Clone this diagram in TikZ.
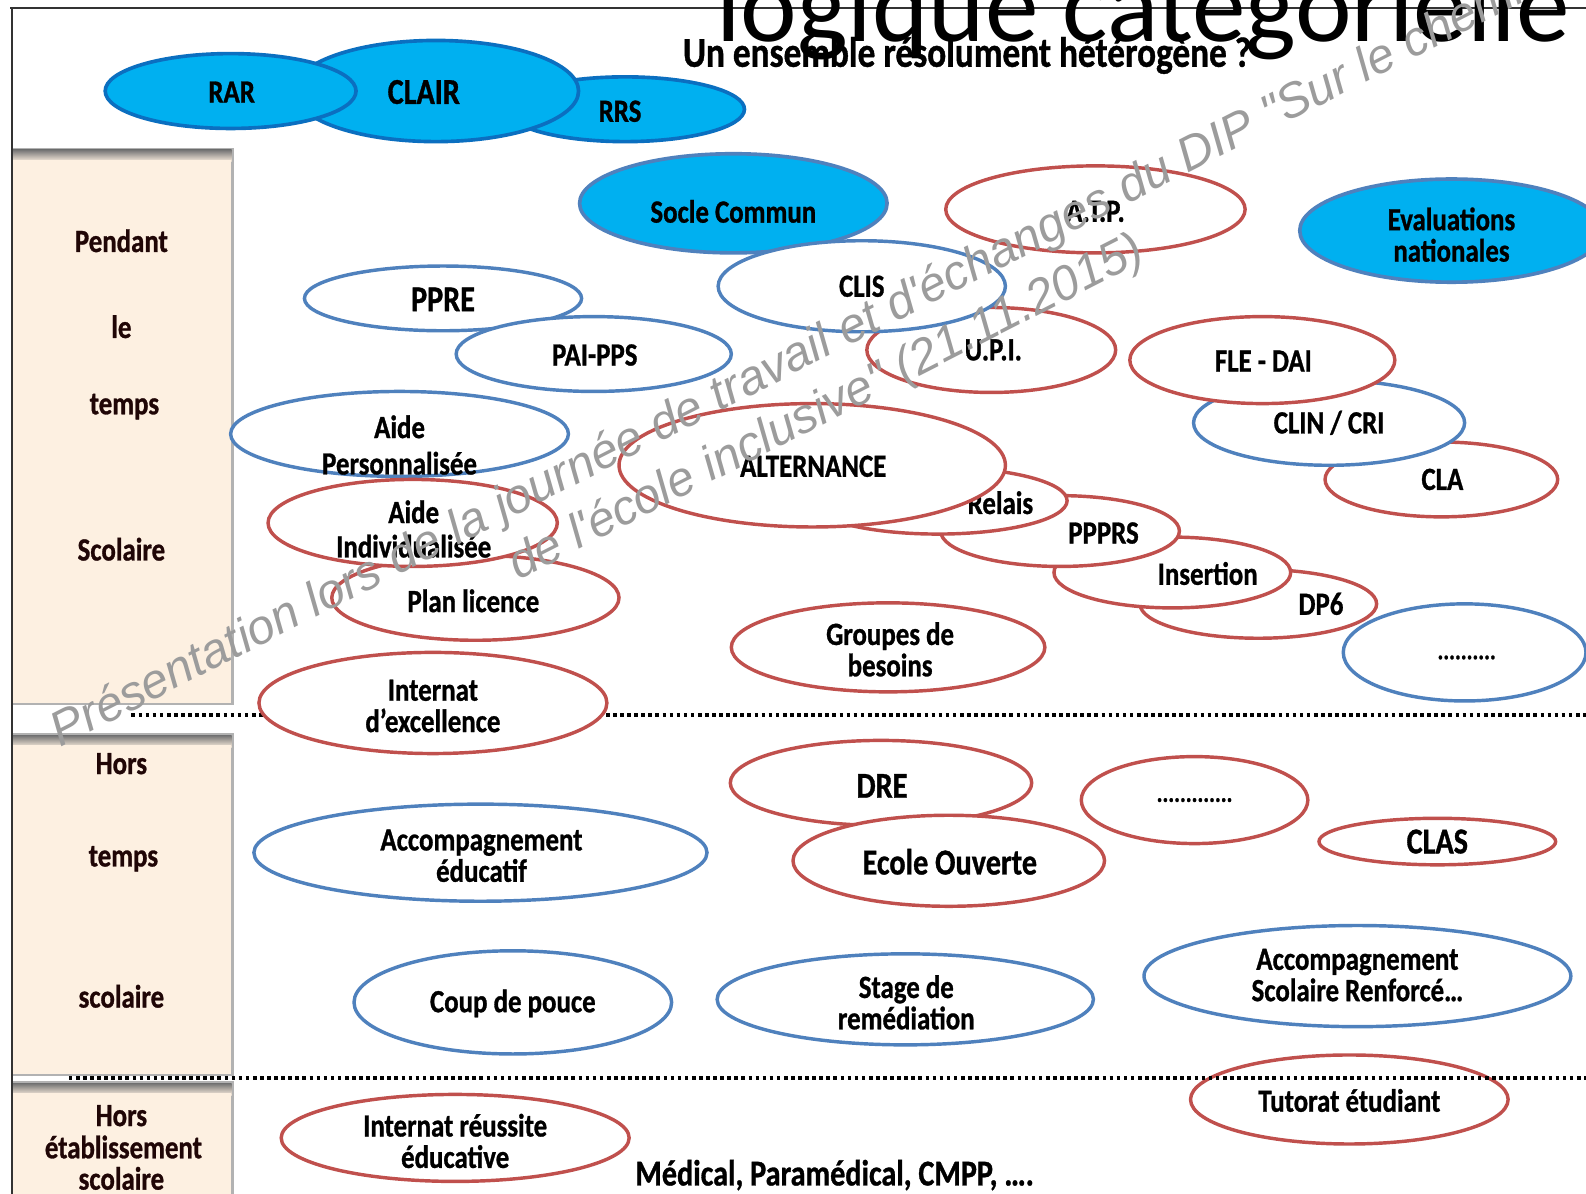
\documentclass[tikz,border=0pt]{standalone}
\usepackage{fontspec}
\usetikzlibrary{shapes.geometric}
\newfontfamily\calfont{Carlito}[FakeStretch=0.83, FakeBold=0.9]
\newfontfamily\titlefont{Carlito}
\newfontfamily\wmfont{Liberation Sans}[Ligatures=TeXOff]
\definecolor{mycyan}{HTML}{00B0F0}
\definecolor{darkb}{HTML}{0B6FC0}
\definecolor{myblue}{HTML}{4F81BD}
\definecolor{myred}{HTML}{C0504D}
\definecolor{beige}{HTML}{FDF0E1}
\definecolor{wm}{HTML}{9C9C9C}
\definecolor{ptext}{HTML}{200606}
\newcommand\fs[1]{\fontsize{#1}{31}\selectfont}
\newcommand\fsk[2]{\fontsize{#1}{#2}\selectfont}
\begin{document}
\begin{tikzpicture}[x=1pt,y=-1pt,
  ebase/.style={ellipse, inner sep=0pt, line width=3.4pt, fill=white},
  rede/.style={ebase, draw=myred},
  bluee/.style={ebase, draw=myblue},
  cyane/.style={ellipse, inner sep=0pt, line width=3.6pt, fill=mycyan, draw=#1},
  lbl/.style={font=\calfont\bfseries\fs{32}, align=center, inner sep=0pt, text=black},
  big/.style={font=\calfont\bfseries\fs{36}},
  ptxt/.style={font=\calfont\bfseries\fs{32}, inner sep=0pt, text=ptext},
  dotline/.style={line width=3.6pt, dash pattern=on 3.6pt off 3.4pt},
  wmtext/.style={font=\wmfont\itshape\fsk{48}{57}, text=wm, inner sep=0pt},
  panel/.style={fill=beige},
  pshadow/.style={fill=black!30}
]
\useasboundingbox (0,0) rectangle (1568,1180);
\clip (0,0) rectangle (1568,1180);
\fill[white] (0,0) rectangle (1568,1180);

% frame
\draw[line width=1.4pt, black!80] (10,8) -- (1568,8);
\draw[line width=1.4pt, black!80] (12,8) -- (12,1180);

% title
\node[anchor=base west, inner sep=0pt, font=\titlefont\fontsize{106}{106}\selectfont] (title) at (708,41) {logique catégorielle};
\node[anchor=base west, inner sep=0pt, font=\calfont\bfseries\fs{42}] (subtitle) at (675,66) {Un ensemble résolument hétérogène ?};

% panels
\fill[pshadow] (13,146) rectangle (231,697);
\shade[top color=black!55, bottom color=beige] (13,148) rectangle (229,160);
\fill[panel] (13,158) rectangle (228,695);
\fill[pshadow] (13,725) rectangle (231,1064);
\shade[top color=black!55, bottom color=beige] (13,727) rectangle (229,739);
\fill[panel] (13,737) rectangle (228,1062);
\fill[pshadow] (13,1069) rectangle (231,1180);
\shade[top color=black!55, bottom color=beige] (13,1071) rectangle (229,1083);
\fill[panel] (13,1081) rectangle (228,1180);

\node[ptxt] (p1a) at (120,238) {Pendant};
\node[ptxt] (p1b) at (120,323) {le};
\node[ptxt] (p1c) at (123,402) {temps};
\node[ptxt] (p1d) at (120,543) {Scolaire};
\node[ptxt] (p2a) at (120,755) {Hors};
\node[ptxt] (p2b) at (122,849) {temps};
\node[ptxt] (p2c) at (120,985) {scolaire};
\node[ptxt] (p3a) at (120,1103) {Hors};
\node[ptxt] (p3b) at (122,1134) {établissement};
\node[ptxt] (p3c) at (120,1165) {scolaire};

% cyan ellipses
\node[cyane=darkb, minimum width=236pt, minimum height=64pt] (rrs) at (618,108) {};
\node[lbl] (rrs-t) at (613,110) {RRS};
\node[cyane=darkb, minimum width=282pt, minimum height=100pt] (clair) at (431,90) {};
\node[lbl, big] (clair-t) at (419,91) {CLAIR};
\node[cyane=darkb, minimum width=248pt, minimum height=74pt] (rar) at (228,90) {};
\node[lbl] (rar-t) at (229,91) {RAR};
\node[cyane=myblue, minimum width=304pt, minimum height=98pt] (socle) at (725,201) {};
\node[lbl] (socle-t) at (725,209) {Socle Commun};
\node[cyane=myblue, minimum width=300pt, minimum height=102pt] (eval) at (1435,228) {};
\node[lbl] (eval-t) at (1435,232) {Evaluations\\nationales};

% upper ellipses
\node[rede, minimum width=296pt, minimum height=86pt] (atp) at (1083,207) {};
\node[lbl] (atp-t) at (1083,209) {A.T.P.};
\node[rede, minimum width=246pt, minimum height=84pt] (upi) at (980,346) {};
\node[lbl] (upi-t) at (982,346) {U.P.I.};
\node[bluee, minimum width=284pt, minimum height=90pt] (clis) at (852,283) {};
\node[lbl] (clis-t) at (852,283) {CLIS};
\node[bluee, minimum width=274pt, minimum height=64pt] (ppre) at (438,295) {};
\node[lbl, big] (ppre-t) at (438,296) {PPRE};
\node[bluee, minimum width=272pt, minimum height=74pt] (paipps) at (587,350) {};
\node[lbl] (paipps-t) at (588,351) {PAI-PPS};
\node[rede, minimum width=230pt, minimum height=74pt] (cla) at (1425,474) {};
\node[lbl] (cla-t) at (1426,474) {CLA};
\node[bluee, minimum width=268pt, minimum height=84pt] (clin) at (1314,418) {};
\node[lbl] (clin-t) at (1314,418) {CLIN / CRI};
\node[rede, minimum width=262pt, minimum height=86pt] (fle) at (1248,356) {};
\node[lbl] (fle-t) at (1249,357) {FLE - DAI};
\node[bluee, minimum width=334pt, minimum height=84pt] (aideperso) at (395,429) {};
\node[lbl, font={\calfont\bfseries\fsk{32}{36}}] (aideperso-t) at (395,440) {Aide\\Personnalisée};
\node[rede, minimum width=284pt, minimum height=84pt] (plan) at (470,591) {};
\node[lbl] (plan-t) at (468,594) {Plan licence};
\node[rede, minimum width=286pt, minimum height=86pt] (aideind) at (408,517) {};
\node[lbl, font={\calfont\bfseries\fsk{32}{34}}] (aideind-t) at (409,523) {Aide\\Individualisée};
\node[rede, minimum width=234pt, minimum height=68pt] (dp6) at (1244,597) {};
\node[lbl] (dp6-t) at (1306,597) {DP6};
\node[rede, minimum width=234pt, minimum height=70pt] (insertion) at (1159,566) {};
\node[lbl] (insertion-t) at (1194,567) {Insertion};
\node[rede, minimum width=236pt, minimum height=70pt] (ppprs) at (1048,525) {};
\node[lbl] (ppprs-t) at (1091,527) {PPPRS};
\node[rede, minimum width=256pt, minimum height=66pt] (relais) at (927,495) {};
\node[lbl] (relais-t) at (989,497) {Relais};
\node[rede, minimum width=382pt, minimum height=122pt] (altern) at (803,460) {};
\node[lbl] (altern-t) at (804,461) {ALTERNANCE};
\node[rede, minimum width=310pt, minimum height=88pt] (groupes) at (878,640) {};
\node[lbl] (groupes-t) at (880,642) {Groupes de\\besoins};
\node[bluee, minimum width=240pt, minimum height=96pt] (dotsb) at (1448,645) {};
\node[lbl, font={\calfont\bfseries\fs{26}}] (dotsb-t) at (1450,650) {..........};

% dotted separator 1
\coordinate (d1a) at (130,707);
\coordinate (d1b) at (1568,707);
\draw[dotline] (d1a) -- (d1b);

\node[rede, minimum width=344pt, minimum height=100pt] (internatexc) at (428,695) {};
\node[lbl] (internatexc-t) at (428,698) {Internat\\d’excellence};

% hors temps scolaire
\node[rede, minimum width=298pt, minimum height=84pt] (dre) at (871,774) {};
\node[lbl, big] (dre-t) at (872,777) {DRE};
\node[rede, minimum width=308pt, minimum height=90pt] (ecole) at (938,851) {};
\node[lbl, big] (ecole-t) at (939,852) {Ecole Ouverte};
\node[rede, minimum width=224pt, minimum height=86pt] (dotsr) at (1181,791) {};
\node[lbl, font={\calfont\bfseries\fs{26}}] (dotsr-t) at (1181,791) {.............};
\node[rede, minimum width=234pt, minimum height=46pt] (clas) at (1421,832) {};
\node[lbl, big] (clas-t) at (1421,832) {CLAS};
\node[bluee, minimum width=448pt, minimum height=96pt] (accedu) at (475,843) {};
\node[lbl] (accedu-t) at (476,846) {Accompagnement\\éducatif};
\node[bluee, minimum width=314pt, minimum height=102pt] (coup) at (507,991) {};
\node[lbl] (coup-t) at (507,992) {Coup de pouce};
\node[bluee, minimum width=372pt, minimum height=90pt] (stage) at (895,988) {};
\node[lbl] (stage-t) at (896,991) {Stage de\\remédiation};
\node[bluee, minimum width=422pt, minimum height=100pt] (asr) at (1342,965) {};
\node[lbl] (asr-t) at (1342,964) {Accompagnement\\Scolaire Renforcé…};
\node[rede, minimum width=314pt, minimum height=88pt] (tutorat) at (1334,1087) {};
\node[lbl] (tutorat-t) at (1334,1088) {Tutorat étudiant};

% dotted separator 2
\coordinate (d2a) at (68,1066);
\coordinate (d2b) at (1568,1066);
\draw[dotline] (d2a) -- (d2b);

\node[rede, minimum width=344pt, minimum height=86pt] (internatre) at (450,1125) {};
\node[lbl] (internatre-t) at (450,1128) {Internat réussite\\éducative};
\node[anchor=base west, inner sep=0pt, font={\calfont\bfseries\fs{36}}] (medical) at (628,1172) {Médical, Paramédical, CMPP, ….};

% watermark
\node[wmtext, anchor=base west, rotate=27] (wm1) at (60,739) {Présentation lors de la journée de travail et d'échanges du DIP "Sur le chemin};
\node[wmtext, anchor=base west, rotate=27] (wm2) at (512,574) {de l'école inclusive" (21.11.2015)};
\end{tikzpicture}
\end{document}
